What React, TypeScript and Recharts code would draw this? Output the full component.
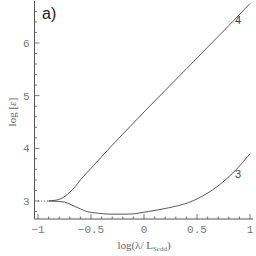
import React from 'react';
import { LineChart, Line, XAxis, YAxis } from 'recharts';

const xMajor = [-1, -0.5, 0, 0.5, 1];
const xTicks = [-1, -0.9, -0.8, -0.7, -0.6, -0.5, -0.4, -0.3, -0.2, -0.1, 0, 0.1, 0.2, 0.3, 0.4, 0.5, 0.6, 0.7, 0.8, 0.9, 1];
const xLabels = ['−1', '−0.5', '0', '0.5', '1'];
const yMajor = [3, 4, 5, 6];
const yTicks = [2.8, 3, 3.2, 3.4, 3.6, 3.8, 4, 4.2, 4.4, 4.6, 4.8, 5, 5.2, 5.4, 5.6, 5.8, 6, 6.2, 6.4, 6.6];

const dotX = [-1, -0.9];
const dotY = [3.0, 3.0];

const c4X = [-0.9, -0.85, -0.8, -0.745, -0.7, -0.65, -0.6, -0.5, -0.4, -0.3, -0.2, -0.1, 0, 0.2, 0.4, 0.6, 0.8, 1.0];
const c4Y = [3.0, 3.01, 3.03, 3.09, 3.17, 3.27, 3.4, 3.62, 3.84, 4.06, 4.27, 4.48, 4.69, 5.1, 5.51, 5.92, 6.33, 6.75];

const c3X = [-0.9, -0.84, -0.75, -0.7, -0.6, -0.54, -0.44, -0.32, -0.15, 0.04, 0.23, 0.42, 0.6, 0.79, 0.98, 1.0];
const c3Y = [3.0, 2.995, 2.98, 2.94, 2.85, 2.8, 2.77, 2.75, 2.75, 2.8, 2.87, 2.97, 3.15, 3.44, 3.85, 3.9];

const toPts = (xs: number[], ys: number[]) => xs.map((x, i) => ({ x, y: ys[i] }));
const dotData = toPts(dotX, dotY);
const c4Data = toPts(c4X, c4Y);
const c3Data = toPts(c3X, c3Y);

const AX = '#555';
const TXT = '#777';
const isMajor = (v: number, majors: number[]) => majors.some((m) => Math.abs(m - v) < 1e-6);

const BottomTick = (p: any) => {
  const v = p.payload.value;
  const maj = isMajor(v, xMajor);
  const idx = xMajor.findIndex((m) => Math.abs(m - v) < 1e-6);
  return (
    <g>
      <line x1={p.x} x2={p.x} y1={p.y} y2={p.y - (maj ? 5 : 2.5)} stroke={AX} strokeWidth={0.8} />
      {maj && (
        <text x={p.x} y={p.y + 14} textAnchor="middle" fontFamily="Liberation Mono" fontSize={11} fill={TXT}>
          {xLabels[idx]}
        </text>
      )}
    </g>
  );
};
const TopTick = (p: any) => {
  const maj = isMajor(p.payload.value, xMajor);
  return <line x1={p.x} x2={p.x} y1={p.y} y2={p.y + (maj ? 5 : 2.5)} stroke={AX} strokeWidth={0.8} />;
};
const LeftTick = (p: any) => {
  const v = p.payload.value;
  const maj = isMajor(v, yMajor);
  return (
    <g>
      <line x1={p.x} x2={p.x + (maj ? 5 : 2.5)} y1={p.y} y2={p.y} stroke={AX} strokeWidth={0.8} />
      {maj && (
        <text x={p.x - 5} y={p.y + 4} textAnchor="end" fontFamily="Liberation Mono" fontSize={11} fill={TXT}>
          {String(v)}
        </text>
      )}
    </g>
  );
};
const RightTick = (p: any) => {
  const maj = isMajor(p.payload.value, yMajor);
  return <line x1={p.x} x2={p.x - (maj ? 5 : 2.5)} y1={p.y} y2={p.y} stroke={AX} strokeWidth={0.8} />;
};

export default function App() {
  return (
    <div style={{ position: 'absolute', left: 0, top: 0, width: 256, height: 256, background: '#fff' }}>
      <LineChart width={256} height={256} margin={{ top: 1, right: 3, left: 0, bottom: 0 }}>
        <XAxis
          xAxisId="b"
          type="number"
          dataKey="x"
          domain={[-1.033, 1.028]}
          ticks={xTicks}
          interval={0}
          tick={<BottomTick />}
          tickLine={false}
          tickSize={0}
          tickMargin={0}
          height={37}
          stroke={AX}
          allowDataOverflow
        />
        <XAxis
          xAxisId="t"
          orientation="top"
          type="number"
          dataKey="x"
          domain={[-1.033, 1.028]}
          ticks={xTicks}
          interval={0}
          tick={<TopTick />}
          tickLine={false}
          tickSize={0}
          tickMargin={0}
          height={0}
          stroke={AX}
          allowDataOverflow
        />
        <YAxis
          yAxisId="l"
          type="number"
          dataKey="y"
          domain={[2.658, 6.797]}
          ticks={yTicks}
          interval={0}
          tick={<LeftTick />}
          tickLine={false}
          tickSize={0}
          tickMargin={0}
          width={34.5}
          stroke={AX}
          allowDataOverflow
        />
        <YAxis
          yAxisId="r"
          orientation="right"
          type="number"
          dataKey="y"
          domain={[2.658, 6.797]}
          ticks={yTicks}
          interval={0}
          tick={<RightTick />}
          tickLine={false}
          tickSize={0}
          tickMargin={0}
          width={0}
          stroke={AX}
          allowDataOverflow
        />
        <Line xAxisId="b" yAxisId="l" data={dotData} dataKey="y" stroke="#444" strokeWidth={1} strokeDasharray="1 2" dot={false} isAnimationActive={false} type="linear" />
        <Line xAxisId="b" yAxisId="l" data={c4Data} dataKey="y" stroke="#444" strokeWidth={0.9} dot={false} isAnimationActive={false} type="monotone" />
        <Line xAxisId="b" yAxisId="l" data={c3Data} dataKey="y" stroke="#444" strokeWidth={0.9} dot={false} isAnimationActive={false} type="monotone" />
      </LineChart>
      <div style={{ position: 'absolute', left: 42, top: 5, fontFamily: 'Liberation Sans', fontSize: 16, color: '#222' }}>a)</div>
      <div style={{ position: 'absolute', left: 235, top: 14, fontFamily: 'Liberation Sans', fontSize: 11, color: '#444' }}>4</div>
      <div style={{ position: 'absolute', left: 235, top: 168, fontFamily: 'Liberation Sans', fontSize: 11, color: '#444' }}>3</div>
      <div
        style={{
          position: 'absolute',
          left: 12,
          top: 112,
          transform: 'translate(-50%, -50%) rotate(-90deg)',
          fontFamily: 'Liberation Serif',
          fontSize: 11,
          color: '#666',
          whiteSpace: 'nowrap',
        }}
      >
        log [ε]
      </div>
      <div
        style={{
          position: 'absolute',
          left: 144,
          top: 246,
          transform: 'translate(-50%, -50%)',
          fontFamily: 'Liberation Serif',
          fontSize: 11,
          lineHeight: '12px',
          color: '#666',
          whiteSpace: 'nowrap',
        }}
      >
        log(λ/ L<span style={{ fontSize: 7, position: 'relative', top: 2 }}>Scdd</span>)
      </div>
    </div>
  );
}
